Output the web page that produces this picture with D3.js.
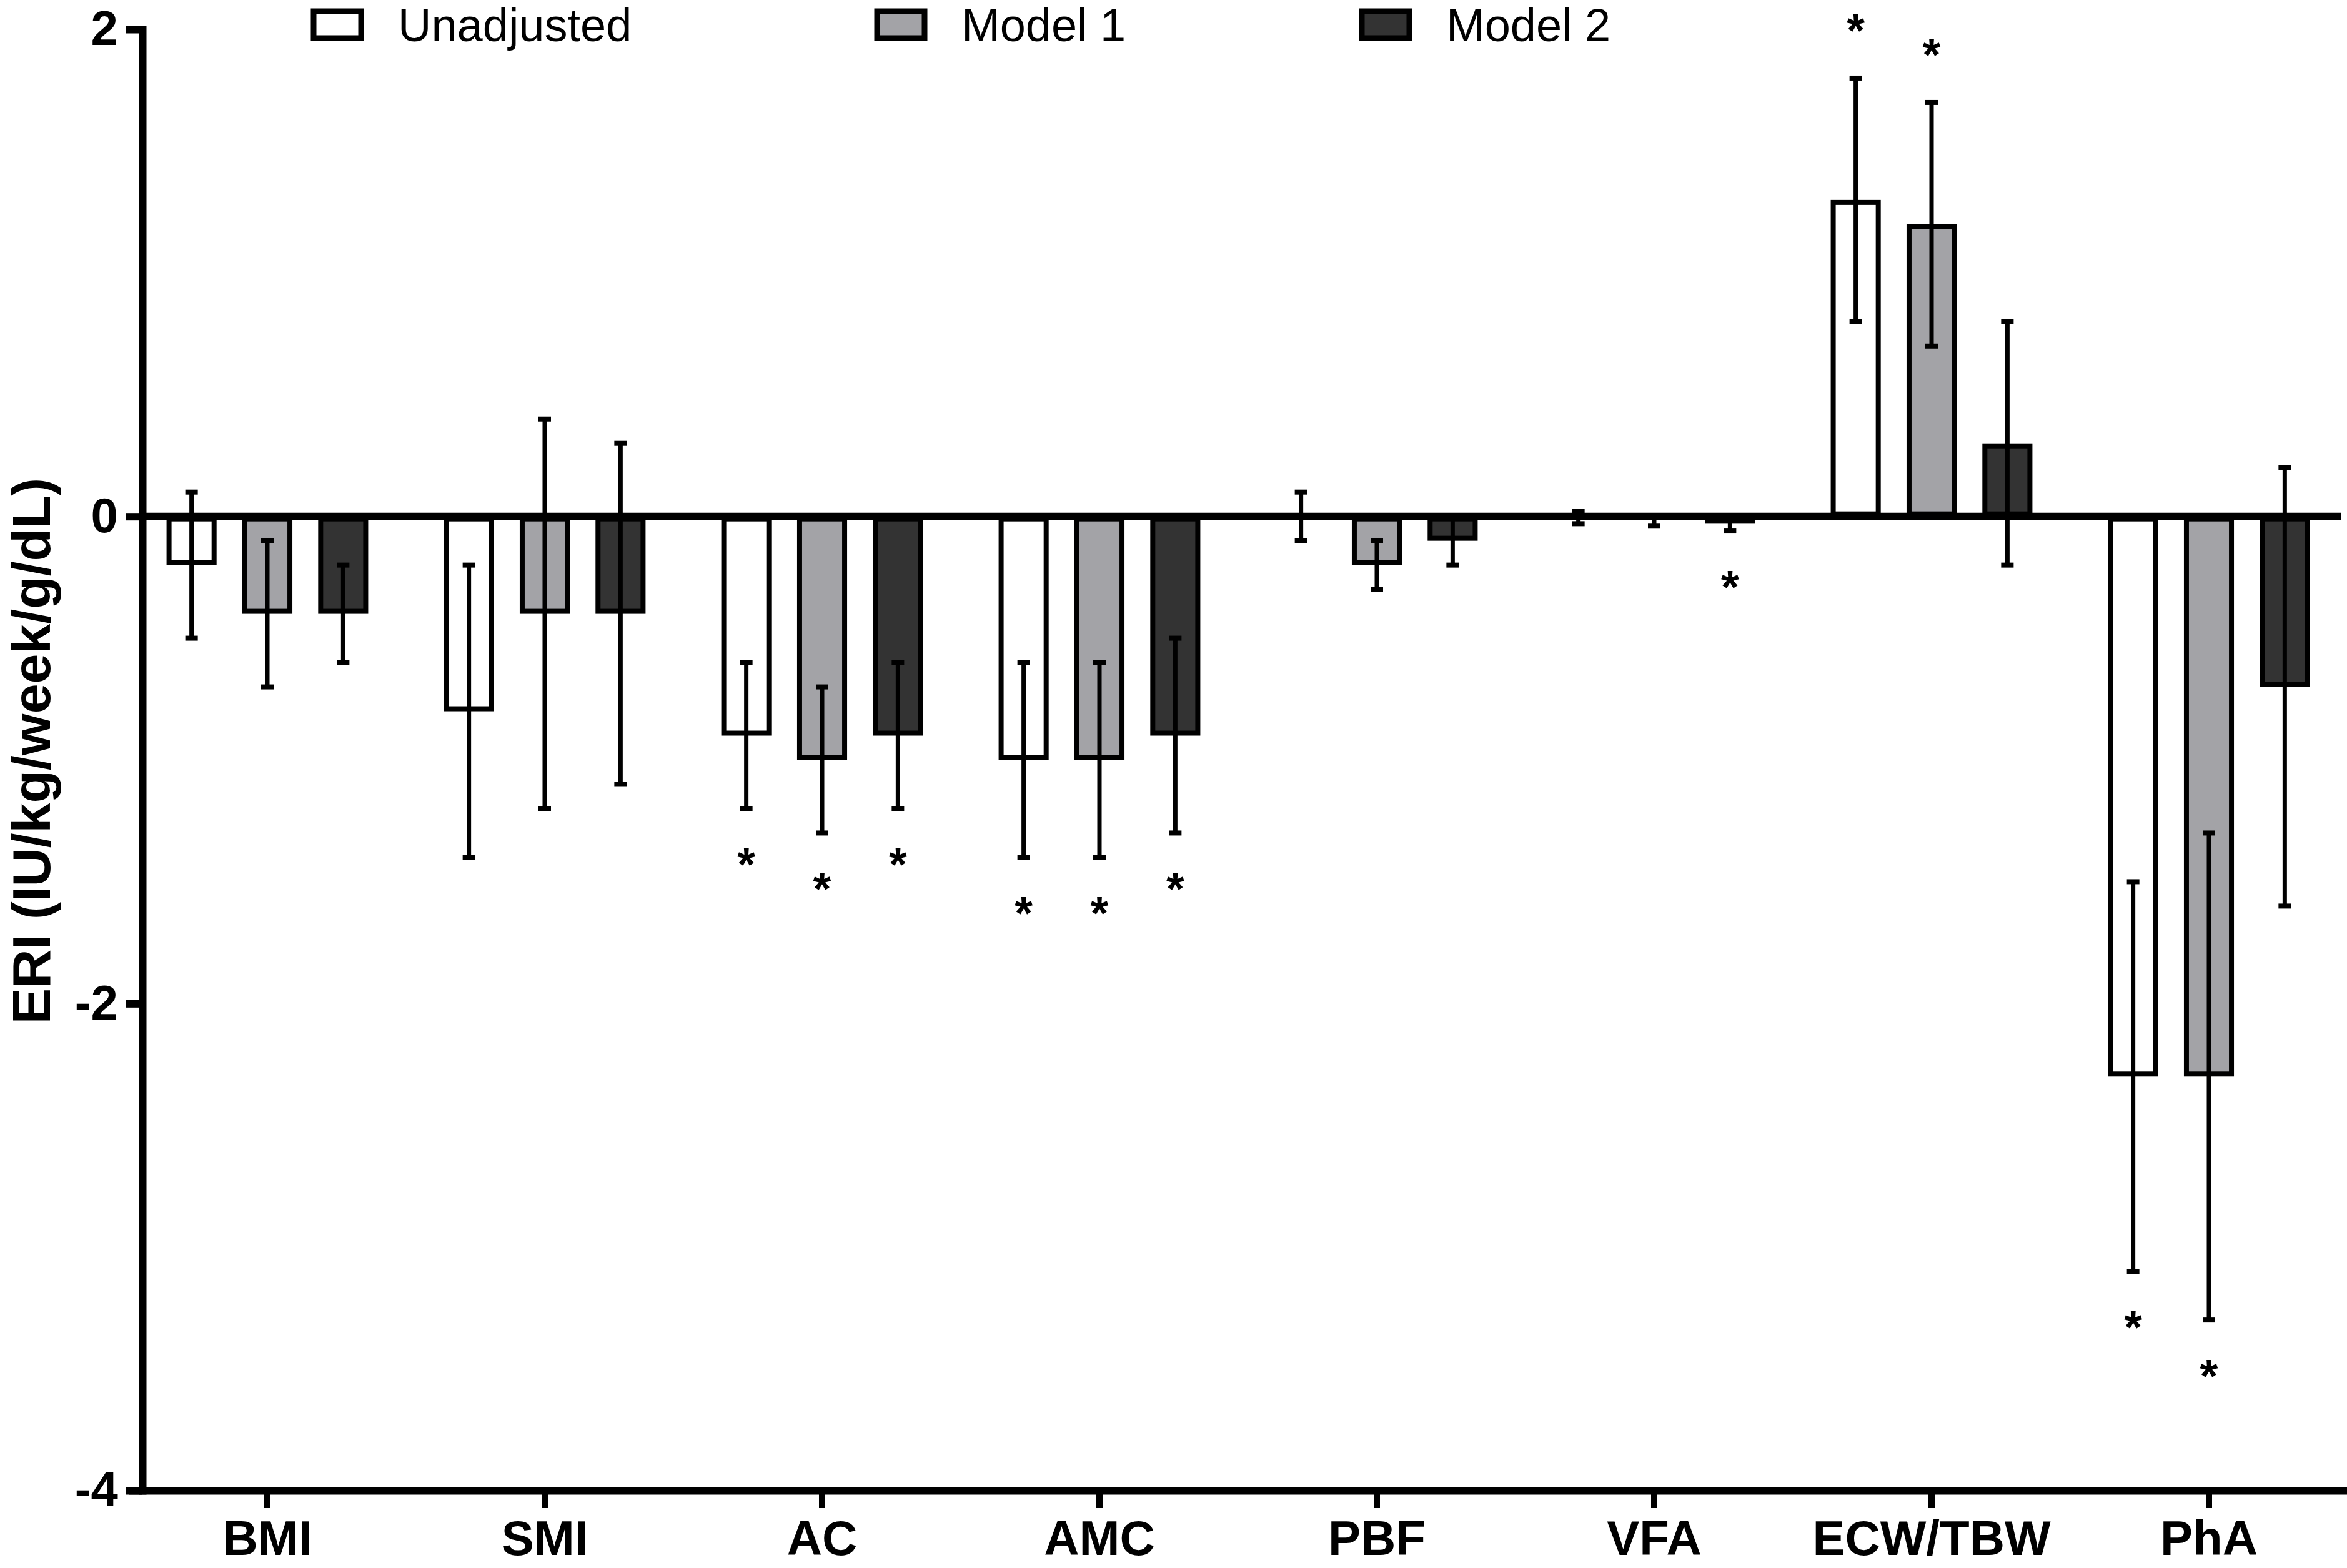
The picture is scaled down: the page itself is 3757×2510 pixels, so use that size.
<!DOCTYPE html>
<html>
<head>
<meta charset="utf-8">
<script src="https://cdn.jsdelivr.net/npm/d3@7"></script>
<style>
  body { margin: 0; background: #fff; }
  text { font-family: "Liberation Sans", Arial, sans-serif; }
</style>
</head>
<body>
<div id="chart-area"></div>
<script>
// categories and series
let categories = ["BMI", "SMI", "AC", "AMC", "PBF", "VFA", "ECW/TBW", "PhA"];
let series = ["Unadjusted", "Model 1", "Model 2"];

// values (ERI, IU/kg/week/g/dL)
let unadjusted     = [-0.2, -0.8, -0.9, -1.0,  0.0,  0.0,  1.3, -2.3];
let unadjustedLow  = [-0.5, -1.4, -1.2, -1.4, -0.1, -0.03, 0.8, -3.1];
let unadjustedHigh = [ 0.1, -0.2, -0.6, -0.6,  0.1,  0.02, 1.8, -1.5];
let unadjustedSig  = [0, 0, 1, 1, 0, 0, 1, 1];

let model1     = [-0.4, -0.4, -1.0, -1.0, -0.2, -0.01, 1.2, -2.3];
let model1Low  = [-0.7, -1.2, -1.3, -1.4, -0.3, -0.04, 0.7, -3.3];
let model1High = [-0.1,  0.4, -0.7, -0.6, -0.1,  0.0,  1.7, -1.3];
let model1Sig  = [0, 0, 1, 1, 0, 0, 1, 1];

let model2     = [-0.4, -0.4, -0.9, -0.9, -0.1, -0.03, 0.3, -0.7];
let model2Low  = [-0.6, -1.1, -1.2, -1.3, -0.2, -0.06, -0.2, -1.6];
let model2High = [-0.2,  0.3, -0.6, -0.5,  0.0,  0.0,  0.8,  0.2];
let model2Sig  = [0, 0, 1, 1, 0, 1, 0, 0];

let yTicks = [2, 0, -2, -4];
let yLabel = "ERI (IU/kg/week/g/dL)";

// layout
let width = 3757, height = 2510;
let fills = ["#ffffff", "#a3a3a7", "#333333"];
let legendX = [497, 1399, 2175];

let values = [unadjusted, model1, model2];
let lows = [unadjustedLow, model1Low, model2Low];
let highs = [unadjustedHigh, model1High, model2High];
let sigs = [unadjustedSig, model1Sig, model2Sig];

// flatten to one record per bar
let data = [];
categories.forEach(function(c, i){
    series.forEach(function(s, j){
        data.push({
            cat: c, series: s, idx: j,
            value: values[j][i], low: lows[j][i], high: highs[j][i], sig: sigs[j][i]
        });
    });
});

let svg = d3.select("#chart-area")
        .append("svg")
        .attr("width", width)
        .attr("height", height);

svg.append("rect").attr("width", width).attr("height", height).attr("fill", "#fff");

let x0 = d3.scaleBand()
        .domain(categories)
        .range([206, 3758]);

let x1 = d3.scaleBand()
        .domain(series)
        .range([-x0.step() * 0.41, x0.step() * 0.41])
        .paddingInner(0.34)
        .paddingOuter(0.17);

let y = d3.scaleLinear()
        .domain([-4, 2])
        .range([2386, 47]);

let bw = x1.bandwidth();
let sw = 8;

// bars (border drawn inside the bar)
svg.selectAll("rect.bar")
    .data(data)
    .enter()
    .append("rect")
    .attr("class", "bar")
    .attr("x", function(d){ return x0(d.cat) + x0.bandwidth() / 2 + x1(d.series) + sw / 2; })
    .attr("width", bw - sw)
    .attr("y", function(d){ return Math.min(y(d.value), y(0)) + sw / 2; })
    .attr("height", function(d){ return Math.max(0, Math.abs(y(d.value) - y(0)) - sw); })
    .attr("fill", function(d){ return fills[d.idx]; })
    .attr("stroke", "#000")
    .attr("stroke-width", sw);

function cx(d){
    return x0(d.cat) + x0.bandwidth() / 2 + x1(d.series) + bw / 2;
}

// error bars
let err = svg.selectAll("g.err")
    .data(data)
    .enter()
    .append("g")
    .attr("class", "err");

err.append("line")
    .attr("x1", cx).attr("x2", cx)
    .attr("y1", function(d){ return y(d.high); })
    .attr("y2", function(d){ return y(d.low); })
    .attr("stroke", "#000")
    .attr("stroke-width", 7);

err.append("line")
    .attr("x1", function(d){ return cx(d) - 10; })
    .attr("x2", function(d){ return cx(d) + 10; })
    .attr("y1", function(d){ return y(d.high); })
    .attr("y2", function(d){ return y(d.high); })
    .attr("stroke", "#000")
    .attr("stroke-width", 8);

err.append("line")
    .attr("x1", function(d){ return cx(d) - 10; })
    .attr("x2", function(d){ return cx(d) + 10; })
    .attr("y1", function(d){ return y(d.low); })
    .attr("y2", function(d){ return y(d.low); })
    .attr("stroke", "#000")
    .attr("stroke-width", 8);

// significance stars
svg.selectAll("text.star")
    .data(data.filter(function(d){ return d.sig == 1; }))
    .enter()
    .append("text")
    .attr("class", "star")
    .attr("x", cx)
    .attr("y", function(d){
        if(d.value >= 0){
            return y(d.high) - 93 + 42;
        }else{
            return y(d.low) + 73 + 42;
        }
    })
    .attr("text-anchor", "middle")
    .style("font-size", "74px")
    .style("font-weight", "bold")
    .text("*");

// zero line
svg.append("line")
    .attr("x1", 228).attr("x2", 3747)
    .attr("y1", y(0)).attr("y2", y(0))
    .attr("stroke", "#000")
    .attr("stroke-width", 12);

// y axis
let yAxis = svg.append("g")
    .attr("transform", "translate(228,0)")
    .call(d3.axisLeft(y).tickValues(yTicks).tickSize(26).tickSizeOuter(0).tickPadding(13)
        .tickFormat(function(d){ return String(d); }));

yAxis.select(".domain").attr("stroke-width", 12).attr("stroke-linecap", "square");
yAxis.selectAll(".tick line").attr("stroke-width", 12);
yAxis.selectAll(".tick text")
    .style("font-size", "78px")
    .style("font-weight", "bold")
    .attr("fill", "#000");

// x axis
let xAxis = svg.append("g")
    .attr("transform", "translate(0," + y(-4) + ")")
    .call(d3.axisBottom(x0).tickSize(28).tickSizeOuter(0).tickPadding(20));

xAxis.select(".domain").attr("stroke-width", 12);
xAxis.selectAll(".tick line").attr("stroke-width", 10);
xAxis.selectAll(".tick text")
    .style("font-size", "78px")
    .style("font-weight", "bold")
    .attr("fill", "#000");

// y axis title
svg.append("text")
    .attr("transform", "translate(80,1202) rotate(-90)")
    .attr("text-anchor", "middle")
    .style("font-size", "86px")
    .style("font-weight", "bold")
    .text(yLabel);

// legend
let legend = svg.selectAll("g.legend")
    .data(series)
    .enter()
    .append("g")
    .attr("class", "legend")
    .attr("transform", function(d, i){ return "translate(" + legendX[i] + ",0)"; });

legend.append("rect")
    .attr("x", 5).attr("y", 18)
    .attr("width", 76).attr("height", 43)
    .attr("fill", function(d, i){ return fills[i]; })
    .attr("stroke", "#000")
    .attr("stroke-width", 9);

legend.append("text")
    .attr("x", 140).attr("y", 66)
    .style("font-size", "74px")
    .text(function(d){ return d; });
</script>
</body>
</html>
